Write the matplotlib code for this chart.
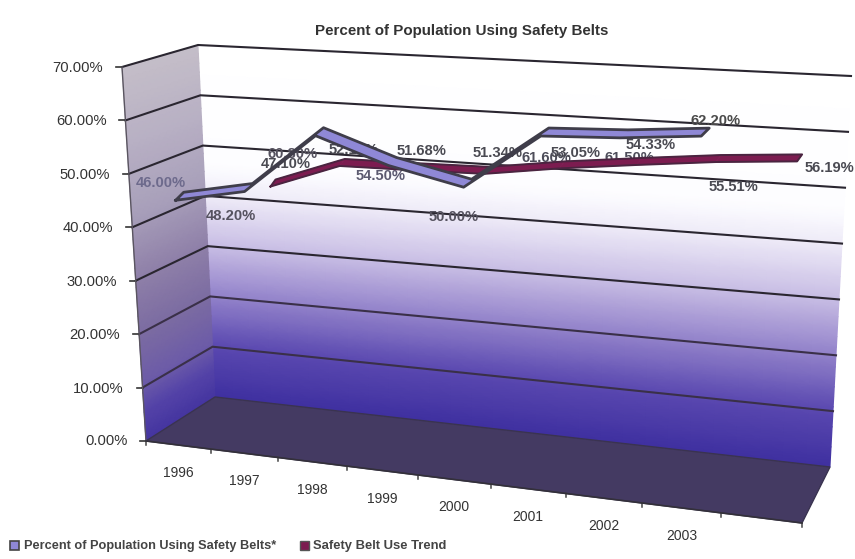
import numpy as np
import matplotlib
matplotlib.use("Agg")
import matplotlib.pyplot as plt
from matplotlib.colors import LinearSegmentedColormap
from matplotlib.patches import Polygon, Rectangle

plt.rcParams['font.family'] = ['Liberation Sans', 'DejaVu Sans']

# ---- data
years = ['1996', '1997', '1998', '1999', '2000', '2001', '2002', '2003']
belt_use = [46.0, 48.2, 60.8, 54.5, 50.0, 61.6, 61.5, 62.2]
trend_years_idx = [1, 2, 3, 4, 5, 6, 7, 8]
trend_use = [47.1, 52.13, 51.68, 51.34, 53.05, 54.33, 55.51, 56.19]
value_ticks = [0, 10, 20, 30, 40, 50, 60, 70]
title = 'Percent of Population Using Safety Belts'
legend_labels = ['Percent of Population Using Safety Belts*', 'Safety Belt Use Trend']

# ---- style / geometry
W, H = 855, 559
N = 9
VMAX = 70.0
# plane corners: (bottom-left, top-left, bottom-right, top-right)
FRONT = ((146, 441), (122, 67), (802, 523), (828, 113))
BACK = ((215, 397), (198, 45), (830, 467), (851, 76))
SERIES = ((146, 404), (146, 87), (831, 416), (831, 99))
TREND = ((173, 392), (173, 77), (841, 412), (841, 97))


def warp(t):
    return 0.878 * t + 0.122 * t * t


def on_plane(plane, idx, value):
    f = warp(np.asarray(idx, float) / N)
    v = np.asarray(value, float) / VMAX
    bl, tl, br, tr = [np.array(c, float) for c in plane]
    x = (1 - f) * (bl[0] + v * (tl[0] - bl[0])) + f * (br[0] + v * (tr[0] - br[0]))
    y = (1 - f) * (bl[1] + v * (tl[1] - bl[1])) + f * (br[1] + v * (tr[1] - br[1]))
    return x, y


def project(idx, value, z):
    fx, fy = on_plane(FRONT, idx, value)
    bx, by = on_plane(BACK, idx, value)
    return fx + (bx - fx) * z, fy + (by - fy) * z


fig = plt.figure(figsize=(W / 100, H / 100), dpi=100, facecolor='white')
ax = fig.add_axes([0, 0, 1, 1])
ax.set_xlim(0, W)
ax.set_ylim(H, 0)
ax.axis('off')

back_cmap = LinearSegmentedColormap.from_list('b', [
    (0.0, '#3f30a0'), (0.143, '#5a48b0'), (0.286, '#9282ca'), (0.43, '#c8bde4'),
    (0.57, '#eeebf8'), (0.66, '#fdfdff'), (1.0, '#ffffff')])
left_cmap = LinearSegmentedColormap.from_list('l', [
    (0.0, '#4535a0'), (0.08, '#5443a8'), (0.143, '#6b5aa8'), (0.286, '#7c6ca2'),
    (0.43, '#8e7fa8'), (0.6, '#a89fba'), (0.8, '#b8b0c4'), (1.0, '#c4bec8')])

# back wall
ii = np.linspace(0, N, 30)
vv = np.linspace(0, VMAX, 40)
I, V = np.meshgrid(ii, vv)
X, Y = project(I, V, 1.0)
ax.pcolormesh(X, Y, V, cmap=back_cmap, shading='gouraud', vmin=0, vmax=VMAX, zorder=1)

# left wall
zz = np.linspace(0, 1, 12)
Z, V2 = np.meshgrid(zz, vv)
X2, Y2 = project(np.zeros_like(Z), V2, Z)
ax.pcolormesh(X2, Y2, V2, cmap=left_cmap, shading='gouraud', vmin=0, vmax=VMAX, zorder=1)

# floor
corners = [project(0, 0, 0), project(N, 0, 0), project(N, 0, 1), project(0, 0, 1)]
ax.add_patch(Polygon(corners, closed=True, fc='#443a62', ec='#3a3350', lw=1, zorder=2))

# grid
for val in value_ticks[1:]:
    p0 = project(0, val, 0)
    p1 = project(0, val, 1)
    p2 = project(N, val, 1)
    ax.plot([p0[0], p1[0], p2[0]], [p0[1], p1[1], p2[1]],
            color='#2a2630' if val >= 30 else '#3a3048', lw=1.5, zorder=3,
            solid_joinstyle='miter')
    ax.plot([p0[0], p0[0] - 6], [p0[1], p0[1]], color='#333', lw=1.2, zorder=3)
    ax.text(p0[0] - 19, p0[1] + 1, f'{val:.2f}%', ha='right', va='center', fontsize=10.6,
            color='#333333', zorder=6)
p0 = project(0, 0, 0)
ax.plot([p0[0], p0[0] - 6], [p0[1], p0[1]], color='#333', lw=1.2, zorder=3)
ax.text(p0[0] - 18, p0[1], '0.00%', ha='right', va='center', fontsize=10.6, color='#333333', zorder=6)
pt = project(0, VMAX, 0)
ax.plot([p0[0], pt[0]], [p0[1], pt[1]], color='#5a5560', lw=1.0, zorder=3)

# category axis
for k in range(N + 1):
    p = project(k, 0, 0)
    ax.plot([p[0], p[0]], [p[1], p[1] + 4], color='#444', lw=1.1, zorder=3)
pa, pb = project(0, 0, 0), project(N, 0, 0)
ax.plot([pa[0], pb[0]], [pa[1], pb[1]], color='#33303a', lw=1.2, zorder=3)
for k, y in enumerate(years):
    p = project(k + 0.5, 0, 0)
    ax.text(p[0], p[1] + 28, y, ha='center', va='center', fontsize=10, color='#333', zorder=6)

# labels below ribbons: (dx, dy) from the data point
belt_label_off = [(-19, -13), (-18, 28), (-27, 22), (-12, 14), (-14, 34), (2, 26), (5, 24), (10, -11)]
trend_label_off = [(13, -19), (11, -12), (8, -16), (11, -17), (14, -12), (12, -16), (15, 28), (30, 10)]
label_grey = '#6d6a8c'
belt_x, belt_y = on_plane(SERIES, np.arange(len(belt_use)) + 0.5, belt_use)
trend_x, trend_y = on_plane(TREND, np.array(trend_years_idx) + 0.5, trend_use)
for x, y, v, o, c in zip(belt_x, belt_y, belt_use, belt_label_off,
                         [label_grey, '#55525f', '#55525f', '#5c5a70', '#55525f', '#4d4d5a', '#4d4d5a', '#4a4a4a']):
    ax.text(x + o[0], y + o[1], f'{v:.2f}%', ha='center', va='center', fontsize=10.6,
            fontweight='bold', color=c, zorder=4)
for x, y, v, o in zip(trend_x, trend_y, trend_use, trend_label_off):
    ax.text(x + o[0], y + o[1], f'{v:.2f}%', ha='center', va='center', fontsize=10.6,
            fontweight='bold', color='#4a4a52', zorder=4)


def ribbon(xs, ys, dx, dy, face, edge, z, lw):
    for i in range(len(xs) - 1):
        quad = [(xs[i] - dx, ys[i] + dy), (xs[i + 1] - dx, ys[i + 1] + dy),
                (xs[i + 1] + dx, ys[i + 1] - dy), (xs[i] + dx, ys[i] - dy)]
        ax.add_patch(Polygon(quad, closed=True, fc=face, ec=face, lw=0.5, zorder=z))
    outline_x = list(xs - dx) + list((xs + dx)[::-1]) + [xs[0] - dx]
    outline_y = list(ys + dy) + list((ys - dy)[::-1]) + [ys[0] + dy]
    ax.plot(outline_x, outline_y, color=edge, lw=lw, zorder=z + 0.1, solid_joinstyle='round')


ribbon(trend_x, trend_y, 2.5, 3.5, '#7c1c50', '#4a2440', 5, 1.4)
ribbon(belt_x, belt_y, 4, 4, '#8f88d6', '#3f3d4a', 5.5, 2.0)

# title and legend
ax.text(462, 31, title, ha='center', va='center', fontsize=10.9, fontweight='bold', color='#333')
ax.add_patch(Rectangle((10, 541), 9, 9, fc='#8f88d6', ec='#444', lw=1.2))
ax.text(24, 545.5, legend_labels[0], ha='left', va='center', fontsize=9.2, fontweight='bold', color='#444')
ax.add_patch(Rectangle((300, 541), 9, 9, fc='#7c1c50', ec='#555', lw=1.0))
ax.text(313, 545.5, legend_labels[1], ha='left', va='center', fontsize=9.4, fontweight='bold', color='#444')

fig.savefig('out.png', dpi=100)
